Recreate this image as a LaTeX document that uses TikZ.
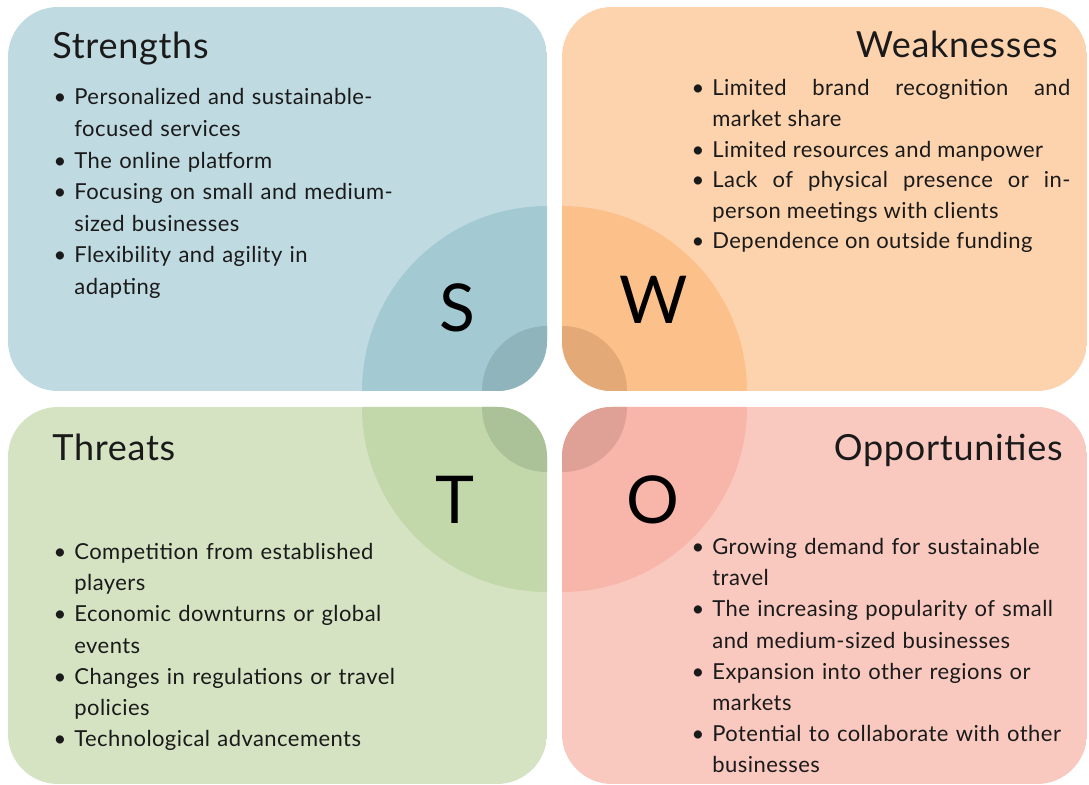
\documentclass[tikz,border=0pt]{standalone}
\usepackage{fontspec}
\setmainfont{Lato}[LetterSpace=2]
\usepackage{enumitem}
\setlist[itemize]{label=\textbullet,leftmargin=8.5pt,labelsep=4pt,itemsep=0pt,parsep=0pt,topsep=0pt,partopsep=0pt}

% quadrant colours: light box, middle circle, dark circle
\definecolor{slight}{HTML}{C0DAE1}
\definecolor{smid}{HTML}{A3CAD3}
\definecolor{sdark}{HTML}{90B4BC}
\definecolor{wlight}{HTML}{FDD3AE}
\definecolor{wmid}{HTML}{FCC08A}
\definecolor{wdark}{HTML}{E3A977}
\definecolor{tlight}{HTML}{D5E3C3}
\definecolor{tmid}{HTML}{C2D8AA}
\definecolor{tdark}{HTML}{ABC299}
\definecolor{olight}{HTML}{F9C9C0}
\definecolor{omid}{HTML}{F8B5A9}
\definecolor{odark}{HTML}{DFA096}
\definecolor{ink}{HTML}{1A1A1A}

\begin{document}
\begin{tikzpicture}[x=0.5pt,y=-0.5pt,
    title/.style={font=\fontsize{18}{21}\selectfont,text=ink,inner sep=0pt},
    letter/.style={font=\fontsize{33}{36}\selectfont,text=black,inner sep=0pt},
    items/.style={font=\fontsize{11}{15.8}\selectfont,text=ink,inner sep=0pt,
      anchor=north west,text width=#1}]
    \useasboundingbox[fill=white] (0,0) rectangle (1089,785);

    % Quadrants with their corner circles
    \foreach \q/\xa/\ya/\xb/\yb/\cx/\cy in {s/8/7/547/391/547/391, w/562/7/1087/391/562/391,
        t/8/407/547/784/547/407, o/562/407/1087/784/562/407} {
      \begin{scope}
        \clip[rounded corners=25pt] (\xa,\ya) rectangle (\xb,\yb);
        \fill[\q light] (\xa,\ya) rectangle (\xb,\yb);
        \fill[\q mid] (\cx,\cy) circle[radius=185];
        \fill[\q dark] (\cx,\cy) circle[radius=65];
      \end{scope}
    }

    % Big letters
    \node[letter] (sl) at (457,308) {S};
    \node[letter] (wl) at (654,300) {W};
    \node[letter] (tl) at (455,500) {T};
    \node[letter] (ol) at (653,500) {O};

    % Titles
    \node[title,anchor=base west] (stitle) at (52,59) {Strengths};
    \node[title,anchor=base east] (wtitle) at (1058,58) {Weaknesses};
    \node[title,anchor=base west] (ttitle) at (52,461) {Threats};
    \node[title,anchor=base east] (otitle) at (1063,461) {Opportunities};

    % Lists
    \node[items=200pt,align=left] (slist) at (57,73) {\begin{itemize}
      \item Personalized and sustainable-\newline focused services
      \item The online platform
      \item Focusing on small and medium-\newline sized businesses
      \item Flexibility and agility in\newline adapting
    \end{itemize}};
    \node[items=187.5pt,align=justify,font=\fontsize{11}{15.3}\selectfont] (wlist) at (695,65) {\begin{itemize}
      \item Limited brand recognition and\linebreak market share
      \item Limited resources and manpower
      \item Lack of physical presence or in-\linebreak person meetings with clients
      \item Dependence on outside funding
    \end{itemize}};
    \node[items=200pt,align=left,font=\fontsize{11}{15.6}\selectfont] (tlist) at (57,528) {\begin{itemize}
      \item Competition from established\newline players
      \item Economic downturns or global\newline events
      \item Changes in regulations or travel\newline policies
      \item Technological advancements
    \end{itemize}};
    \node[items=200pt,align=left,font=\fontsize{11}{15.6}\selectfont] (olist) at (695,523) {\begin{itemize}
      \item Growing demand for sustainable\newline travel
      \item The increasing popularity of small\newline and medium-sized businesses
      \item Expansion into other regions or\newline markets
      \item Potential to collaborate with other\newline businesses
    \end{itemize}};
\end{tikzpicture}
\end{document}
